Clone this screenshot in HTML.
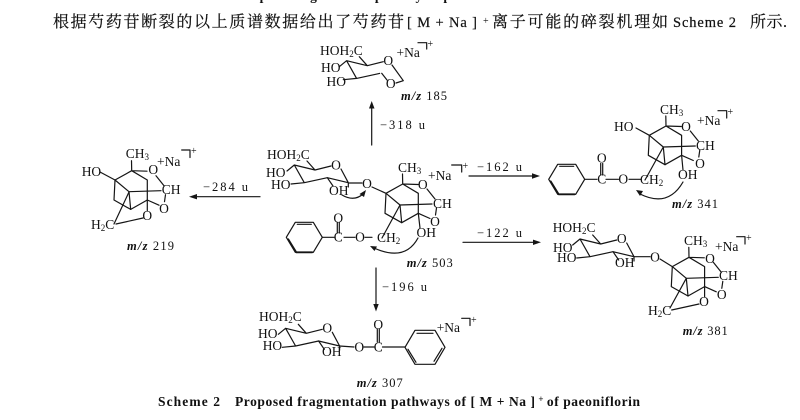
<!DOCTYPE html>
<html><head><meta charset="utf-8"><style>
html,body{margin:0;padding:0;background:#fff;width:800px;height:420px;overflow:hidden}
svg{display:block}
text{font-family:"Liberation Serif","Noto Serif CJK SC",serif;font-size:13.5px;fill:#111}
.l{stroke:#151515;stroke-width:1.2;fill:none;stroke-linecap:round;stroke-linejoin:round}
.b{stroke:#151515;stroke-width:1.8;fill:none;stroke-linecap:round}
.m{text-anchor:middle}
.z{font-size:12.5px}
.i{font-style:italic;font-weight:bold}
.sub{font-size:9px}
.cap{font-weight:bold;font-size:13.5px}
.h{font-size:16px;stroke:#111;stroke-width:.2}
.ha{font-size:14.5px;stroke:#111;stroke-width:.2}
.p{font-size:10px}
</style></head><body>
<svg width="800" height="420" viewBox="0 0 800 420" xmlns="http://www.w3.org/2000/svg">
<defs>
<g id="cage" class="l">
<path d="M402.7,184L402.5,174M402.7,184L386,193.3L385,213.3L401.7,222.7L418.3,213.3L418.3,193.3L402.7,184L418,184.5"/>
<path d="M386,193.3L400,205L401.7,222.7M400,205L432,204M427,189L435,199M436.5,208L435.5,215M430,218.5L418.3,213.3"/>
</g>
<g id="s" class="l">
<path d="M315,170L294.3,165L304.3,182.7L327.3,177.7M315,170L307,161M294.3,165L287,171M304.3,182.7L291,184M315,170L331,166"/>
</g>
<g id="s2" class="l">
<path d="M341,169L348.3,182.7L327.3,177.7L333,186M348.3,182.7V187"/>
</g>
<g id="bz" class="l">
<path d="M-18,0L-9,-15H9L18,0L9,15H-9Z"/>
<path class="b" d="M-16,2L-8,15H8"/>
<path class="l" d="M7,-13L-7,-13"/>
</g>
<g id="bz2" class="l">
<path d="M-20,0L-10,-17H10L20,0L10,17H-10Z"/>
<path class="l" d="M-8,-14H8M17,1L9,14M-17,2L-9,15"/>
</g>
</defs>

<rect width="800" height="420" fill="#fff"/>

<!-- clipped line at the top -->
<text x="240" y="0" class="cap" textLength="270" lengthAdjust="spacing">Proposed fragmentation pathways of paeoniflorin</text>

<!-- heading -->
<text x="53" y="27" class="h" textLength="351">根据芍药苷断裂的以上质谱数据给出了芍药苷</text>
<text x="407" y="27" class="ha" textLength="70">[ M + Na ]</text>
<text x="483" y="24" class="p">+</text>
<text x="492" y="27" class="h" textLength="176">离子可能的碎裂机理如</text>
<text x="673" y="27" class="ha" textLength="63">Scheme 2</text>
<text x="750" y="27" class="h" textLength="37">所示.</text>

<!-- arrows -->
<g class="l">
<path d="M371.7,145V106"/><path d="M260,196.7H195"/><path d="M469,176H535"/><path d="M463,242.3H536"/><path d="M376,268V306"/>
</g>
<g fill="#151515">
<path d="M371.7,101L369,108.5H374.5Z"/>
<path d="M189,196.7L197,194V199.4Z"/>
<path d="M540,176L532,173.3V178.7Z"/>
<path d="M541,242.3L533,239.6V245Z"/>
<path d="M376,311.5L373.3,304H378.7Z"/>
</g>
<text x="380" y="129" class="z" textLength="45">−318 u</text>
<text x="203" y="191" class="z" textLength="45">−284 u</text>
<text x="477" y="171" class="z" textLength="45">−162 u</text>
<text x="477" y="237" class="z" textLength="45">−122 u</text>
<text x="382" y="291" class="z" textLength="45">−196 u</text>

<!-- top: m/z 185 -->
<g transform="translate(52.3,-104.3)"><use href="#s"/></g>
<path class="l" d="M392,65L403.3,80.7L396,83M381.7,73.3L387,80"/>
<text x="320" y="55">HOH<tspan class="sub" dy="2">2</tspan><tspan dy="-2">C</tspan></text>
<text x="321" y="72">HO</text>
<text x="326.5" y="86">HO</text>
<text x="388.3" y="65" class="m">O</text>
<text x="390.7" y="88" class="m">O</text>
<text x="396.5" y="57">+Na</text>
<path class="l" d="M418,42.7H426.7V49"/>
<text x="427.5" y="47" class="p">+</text>
<text x="401" y="100" class="z" textLength="46"><tspan class="i">m/z</tspan> 185</text>

<!-- left: m/z 219 -->
<g transform="translate(-271,-13.3)"><use href="#cage"/></g>
<path class="l" d="M100,172L115,180M129,192L114,224M116,224L143,218M147.3,200V211"/>
<text x="125.7" y="158">CH<tspan class="sub" dy="2">3</tspan></text>
<text x="153.3" y="174" class="m">O</text>
<text x="157" y="166">+Na</text>
<path class="l" d="M181.7,150H190V157.5"/>
<text x="191" y="154" class="p">+</text>
<text x="81.7" y="176">HO</text>
<text x="161.7" y="194">CH</text>
<text x="164" y="213" class="m">O</text>
<text x="147.3" y="220" class="m">O</text>
<text x="91" y="229">H<tspan class="sub" dy="2">2</tspan><tspan dy="-2">C</tspan></text>
<text x="127" y="250" class="z" textLength="47"><tspan class="i">m/z</tspan> 219</text>

<!-- centre: m/z 503 -->
<use href="#s"/><use href="#s2"/>
<use href="#cage"/>
<path class="l" d="M386,193.3L372,187M349,183L362,183M400,205L382,238M418.3,213.3L420,228M344,237.3H355M365,237.3H372M322.5,237.3H334"/>
<path class="l" d="M337.3,222.5V233M339.3,222.5V233"/>
<use href="#bz" transform="translate(304.3,237.3)"/>
<text x="267" y="159">HOH<tspan class="sub" dy="2">2</tspan><tspan dy="-2">C</tspan></text>
<text x="266" y="177">HO</text>
<text x="271" y="189">HO</text>
<text x="329" y="195">OH</text>
<text x="336" y="169.5" class="m">O</text>
<text x="367" y="188" class="m">O</text>
<text x="398" y="172">CH<tspan class="sub" dy="2">3</tspan></text>
<text x="422.7" y="189" class="m">O</text>
<text x="428" y="180">+Na</text>
<path class="l" d="M451.7,165H461.7V172"/>
<text x="462.5" y="169" class="p">+</text>
<text x="433" y="208">CH</text>
<text x="435" y="226" class="m">O</text>
<text x="416.5" y="237">OH</text>
<text x="360" y="241.5" class="m">O</text>
<text x="338.3" y="241.5" class="m">C</text>
<text x="338.3" y="222.5" class="m">O</text>
<text x="377" y="242">CH<tspan class="sub" dy="2">2</tspan></text>
<text x="406.7" y="267" class="z" textLength="46"><tspan class="i">m/z</tspan> 503</text>
<path class="l" d="M342,195Q354,202 363,194"/>
<path d="M366,190L359.5,194L364,197Z" fill="#151515"/>
<path class="l" d="M418,238Q405,262 374,248"/>
<path d="M370,246L377,246.5L374.5,251Z" fill="#151515"/>

<!-- right top: m/z 341 -->
<g transform="translate(263.3,-58)"><use href="#cage"/></g>
<path class="l" d="M636,128L649.3,135.3M663.3,147L645,180M681.6,155.3L683,170M629,179.3H641M606,179.3H618.5M585,179.3H597"/>
<path class="l" d="M600.7,163.5V175M602.7,163.5V175"/>
<use href="#bz" transform="translate(566.7,179.3)"/>
<text x="660" y="114">CH<tspan class="sub" dy="2">3</tspan></text>
<text x="686" y="131" class="m">O</text>
<text x="697" y="125">+Na</text>
<path class="l" d="M718,110.7H726.7V118"/>
<text x="727.5" y="115" class="p">+</text>
<text x="614" y="131">HO</text>
<text x="696" y="150">CH</text>
<text x="700" y="168" class="m">O</text>
<text x="678" y="179">OH</text>
<text x="623.3" y="183.5" class="m">O</text>
<text x="601.7" y="183.5" class="m">C</text>
<text x="601.7" y="162.5" class="m">O</text>
<text x="640" y="184">CH<tspan class="sub" dy="2">2</tspan></text>
<text x="672" y="208" class="z" textLength="46"><tspan class="i">m/z</tspan> 341</text>
<path class="l" d="M683,182Q668,208 640,194"/>
<path d="M636,190L643,191L640,196Z" fill="#151515"/>

<!-- right bottom: m/z 381 -->
<g transform="translate(285.7,74)"><use href="#s"/><use href="#s2"/></g>
<g transform="translate(286.3,73.3)"><use href="#cage"/></g>
<path class="l" d="M634,256.7H650M660,259L672.3,266.6M686.3,278.3L670,308M671.7,310L699,304M704.6,286.6V297"/>
<text x="552.7" y="232">HOH<tspan class="sub" dy="2">2</tspan><tspan dy="-2">C</tspan></text>
<text x="553" y="252">HO</text>
<text x="557" y="262">HO</text>
<text x="615" y="267">OH</text>
<text x="621.7" y="243" class="m">O</text>
<text x="655" y="261.5" class="m">O</text>
<text x="684" y="245">CH<tspan class="sub" dy="2">3</tspan></text>
<text x="710" y="263" class="m">O</text>
<text x="715" y="251">+Na</text>
<path class="l" d="M736.7,236.7H745V244"/>
<text x="746" y="241" class="p">+</text>
<text x="719" y="280">CH</text>
<text x="721.7" y="299" class="m">O</text>
<text x="704" y="306" class="m">O</text>
<text x="648" y="315">H<tspan class="sub" dy="2">2</tspan><tspan dy="-2">C</tspan></text>
<text x="682.7" y="335" class="z" textLength="45"><tspan class="i">m/z</tspan> 381</text>

<!-- bottom: m/z 307 -->
<g transform="translate(-8.7,163.3)"><use href="#s"/><use href="#s2"/></g>
<path class="l" d="M339.6,346L354,347M364,347L374,347M382.5,347H405M377.3,329V342M379.3,329V342"/>
<use href="#bz2" transform="translate(425,347.3)"/>
<text x="259" y="321">HOH<tspan class="sub" dy="2">2</tspan><tspan dy="-2">C</tspan></text>
<text x="258" y="338">HO</text>
<text x="262.7" y="350">HO</text>
<text x="322" y="356">OH</text>
<text x="327.3" y="332.5" class="m">O</text>
<text x="359.3" y="351.5" class="m">O</text>
<text x="378.3" y="351.5" class="m">C</text>
<text x="378.3" y="329" class="m">O</text>
<text x="436.7" y="332">+Na</text>
<path class="l" d="M461.7,318.3H470V325.5"/>
<text x="471" y="323" class="p">+</text>
<text x="356.7" y="387" class="z" textLength="46"><tspan class="i">m/z</tspan> 307</text>

<!-- caption -->
<text x="158" y="406" class="cap" textLength="62">Scheme 2</text>
<text x="235" y="406" class="cap" textLength="405">Proposed fragmentation pathways of [ M + Na ]<tspan dy="-4" style="font-size:9px"> + </tspan><tspan dy="4">of paeoniflorin</tspan></text>
</svg>
</body></html>
